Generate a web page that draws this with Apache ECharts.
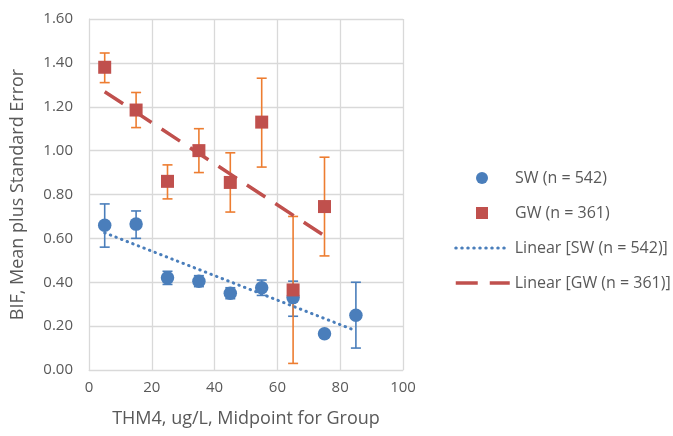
<!DOCTYPE html>
<html><head><meta charset="utf-8">
<script src="https://cdn.jsdelivr.net/npm/echarts@6/dist/echarts.min.js"></script>
<style>html,body{margin:0;padding:0;background:#fff}#c{width:673px;height:436px}</style>
</head><body><div id="c"></div>
<script>
var swX = [5, 15, 25, 35, 45, 55, 65, 75, 85];
var swMean = [0.66, 0.665, 0.42, 0.405, 0.35, 0.375, 0.33, 0.165, 0.25];
var swErrTop = [0.757, 0.725, 0.45, 0.43, 0.375, 0.41, 0.405, 0.18, 0.40];
var swErrBot = [0.56, 0.60, 0.39, 0.38, 0.325, 0.34, 0.245, 0.15, 0.10];
var gwX = [5, 15, 25, 35, 45, 55, 65, 75];
var gwMean = [1.38, 1.185, 0.86, 1.00, 0.855, 1.13, 0.365, 0.745];
var gwErrTop = [1.445, 1.265, 0.935, 1.10, 0.99, 1.33, 0.70, 0.97];
var gwErrBot = [1.31, 1.105, 0.78, 0.90, 0.72, 0.925, 0.03, 0.52];
var names = ['SW (n = 542)', 'GW (n = 361)', 'Linear [SW (n = 542)]', 'Linear [GW (n = 361)]'];

function fit(xs, ys) {
  var n = xs.length, mx = 0, my = 0;
  for (var i = 0; i < n; i++) { mx += xs[i]; my += ys[i]; }
  mx /= n; my /= n;
  var sxy = 0, sxx = 0;
  for (var i = 0; i < n; i++) { sxy += (xs[i]-mx)*(ys[i]-my); sxx += (xs[i]-mx)*(xs[i]-mx); }
  var b = sxy / sxx, a = my - b*mx;
  return [[xs[0], a + b*xs[0]], [xs[n-1], a + b*xs[n-1]]];
}
function zip(a, b) { return a.map(function (v, i) { return [v, b[i]]; }); }
function errData(xs, t, b) { return xs.map(function (v, i) { return [v, t[i], b[i]]; }); }
function errSeries(data, color) {
  return {
    type: 'custom', data: data, silent: true, z: 2,
    renderItem: function (params, api) {
      var top = api.coord([api.value(0), api.value(1)]);
      var bot = api.coord([api.value(0), api.value(2)]);
      var hw = 5;
      var st = { stroke: color, lineWidth: 1.6 };
      return { type: 'group', children: [
        { type: 'line', shape: { x1: top[0], y1: top[1], x2: bot[0], y2: bot[1] }, style: st },
        { type: 'line', shape: { x1: top[0]-hw, y1: top[1], x2: top[0]+hw, y2: top[1] }, style: st },
        { type: 'line', shape: { x1: bot[0]-hw, y1: bot[1], x2: bot[0]+hw, y2: bot[1] }, style: st }
      ]};
    }
  };
}
var txt = '#595959';
var font = 'Open Sans';
var legText = { color: txt, fontSize: 16, fontFamily: font };
var swDot = { color: '#4a7ebb', width: 3, type: [0.5, 5.5], cap: 'round' };
var gwDash = { color: '#C0504D', width: 3.5, type: [22, 12] };
var chart = echarts.init(document.getElementById('c'));
chart.setOption({
  animation: false,
  textStyle: { fontFamily: font },
  grid: { left: 89, right: 270, top: 19, bottom: 66 },
  xAxis: {
    type: 'value', min: 0, max: 100, interval: 20,
    name: 'THM4, ug/L, Midpoint for Group', nameLocation: 'middle', nameGap: 40,
    nameTextStyle: { color: txt, fontSize: 18, fontFamily: font },
    axisLine: { lineStyle: { color: '#d9d9d9' } }, axisTick: { show: false },
    axisLabel: { color: txt, fontSize: 15, margin: 10 },
    splitLine: { lineStyle: { color: '#d9d9d9', width: 1.3 } }
  },
  yAxis: {
    type: 'value', min: 0, max: 1.6, interval: 0.2,
    name: 'BIF, Mean plus Standard Error', nameLocation: 'middle', nameGap: 62,
    nameTextStyle: { color: txt, fontSize: 18, fontFamily: font },
    axisLine: { show: true, lineStyle: { color: '#d9d9d9' } }, axisTick: { show: false },
    axisLabel: { color: txt, fontSize: 15, margin: 16, formatter: function (v) { return v.toFixed(2); } },
    splitLine: { lineStyle: { color: '#d9d9d9', width: 1.3 } }
  },
  legend: [
    { orient: 'vertical', left: 471, top: 165, itemWidth: 12, itemHeight: 12, itemGap: 19,
      data: [{ name: names[0], icon: 'circle' }, { name: names[1], icon: 'rect' }],
      textStyle: Object.assign({ padding: [0, 0, 0, 22] }, legText) },
    { orient: 'vertical', left: 449, top: 235, itemWidth: 54, itemHeight: 12, itemGap: 19,
      data: [{ name: names[2], itemStyle: { opacity: 0 }, lineStyle: swDot },
             { name: names[3], itemStyle: { opacity: 0 }, lineStyle: gwDash }],
      textStyle: legText }
  ],
  series: [
    errSeries(errData(swX, swErrTop, swErrBot), '#4a7ebb'),
    { name: names[0], type: 'scatter', data: zip(swX, swMean), symbol: 'circle', symbolSize: 13.5, z: 3,
      itemStyle: { color: '#4a7ebb', opacity: 1 } },
    errSeries(errData(gwX, gwErrTop, gwErrBot), '#ED7D31'),
    { name: names[1], type: 'scatter', data: zip(gwX, gwMean), symbol: 'rect', symbolSize: 13, z: 3,
      itemStyle: { color: '#C0504D', opacity: 1 } },
    { name: names[2], type: 'line', data: fit(swX, swMean), symbol: 'none', z: 4,
      lineStyle: swDot, itemStyle: { color: '#4a7ebb' } },
    { name: names[3], type: 'line', data: fit(gwX, gwMean), symbol: 'none', z: 4,
      lineStyle: gwDash, itemStyle: { color: '#C0504D' } }
  ]
});
</script></body></html>
